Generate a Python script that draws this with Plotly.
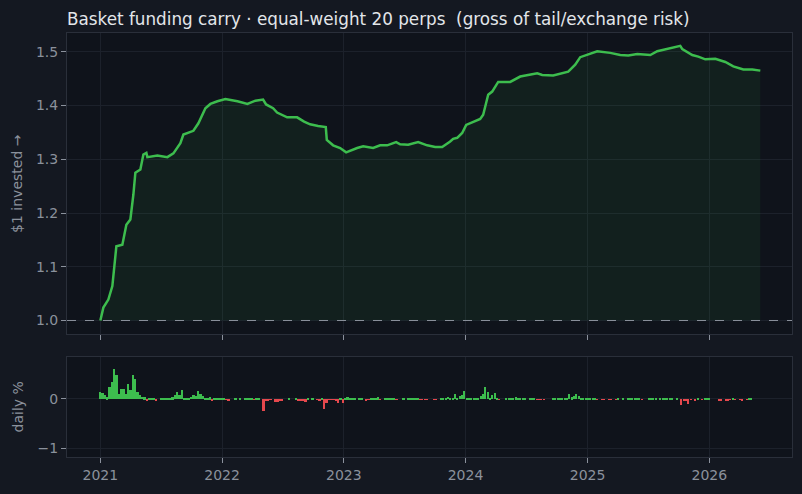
import pandas as pd
import plotly.graph_objects as go
from plotly.subplots import make_subplots

# equity curve, $1 invested
eq_dates = [
    '2021-01-01', '2021-01-10', '2021-01-25', '2021-02-06', '2021-02-18', '2021-03-08',
    '2021-03-20', '2021-04-01', '2021-04-10', '2021-04-16', '2021-05-01', '2021-05-10',
    '2021-05-19', '2021-05-22', '2021-06-21', '2021-07-21', '2021-08-08', '2021-08-29',
    '2021-09-07', '2021-10-07', '2021-10-22', '2021-11-12', '2021-11-27', '2021-12-18',
    '2022-01-11', '2022-02-16', '2022-03-18', '2022-04-11', '2022-05-04', '2022-05-13',
    '2022-06-03', '2022-06-15', '2022-07-15', '2022-08-14', '2022-09-04', '2022-09-22',
    '2022-10-16', '2022-11-08', '2022-11-11', '2022-11-30', '2022-12-21', '2023-01-08',
    '2023-02-10', '2023-02-28', '2023-03-30', '2023-04-20', '2023-05-11', '2023-06-07',
    '2023-06-19', '2023-07-13', '2023-08-12', '2023-09-08', '2023-10-02', '2023-10-23',
    '2023-11-16', '2023-11-25', '2023-12-07', '2023-12-22', '2024-01-03', '2024-01-24',
    '2024-02-14', '2024-02-23', '2024-03-09', '2024-03-21', '2024-04-08', '2024-05-14',
    '2024-06-13', '2024-08-03', '2024-08-18', '2024-09-20', '2024-11-04', '2024-11-25',
    '2024-12-10', '2025-01-30', '2025-03-10', '2025-04-09', '2025-05-03', '2025-05-30',
    '2025-07-08', '2025-07-29', '2025-08-31', '2025-10-06', '2025-10-12', '2025-11-11',
    '2025-11-29', '2025-12-20', '2026-01-19', '2026-02-18', '2026-03-14', '2026-04-13',
    '2026-05-10', '2026-06-03',
]
eq_vals = [
    1.000, 1.024, 1.039, 1.064, 1.138, 1.141,
    1.178, 1.188, 1.234, 1.275, 1.281, 1.309,
    1.312, 1.304, 1.307, 1.304, 1.311, 1.330,
    1.346, 1.353, 1.367, 1.395, 1.403, 1.408,
    1.412, 1.408, 1.403, 1.409, 1.411, 1.402,
    1.395, 1.387, 1.378, 1.378, 1.370, 1.365,
    1.362, 1.360, 1.336, 1.326, 1.321, 1.313,
    1.321, 1.324, 1.321, 1.326, 1.326, 1.332,
    1.328, 1.327, 1.332, 1.326, 1.323, 1.323,
    1.333, 1.338, 1.340, 1.349, 1.364, 1.369,
    1.375, 1.383, 1.420, 1.426, 1.444, 1.444,
    1.454, 1.460, 1.457, 1.456, 1.463, 1.476,
    1.490, 1.501, 1.498, 1.494, 1.493, 1.496,
    1.494, 1.501, 1.506, 1.511, 1.505, 1.494,
    1.491, 1.486, 1.487, 1.481, 1.473, 1.467,
    1.467, 1.465,
]

# basket daily return in %, one value per week starting 2021-01-01
ret_start = '2021-01-01'
ret_vals = [
    0.15, 0.12, 0.08, 0.04, 0.25, 0.35, 0.62, 0.50, 0.10, 0.22,
    0.22, 0.10, 0.32, 0.20, 0.50, 0.42, 0.14, 0.08, 0.05, 0.04,
    -0.02, 0.02, 0.02, 0.02, -0.03, 0.00, 0.02, 0.02, 0.02, 0.02,
    0.02, 0.04, 0.09, 0.15, 0.08, 0.20, 0.02, 0.02, 0.01, 0.05,
    0.08, 0.07, 0.17, 0.10, 0.07, 0.02, 0.03, 0.04, -0.04, 0.02,
    0.02, 0.02, 0.02, 0.01, -0.01, -0.04, 0.00, 0.00, 0.02, 0.00,
    0.02, 0.00, 0.01, 0.02, 0.02, 0.02, -0.01, 0.02, 0.02, 0.00,
    -0.24, -0.03, -0.03, -0.01, 0.00, -0.05, -0.05, -0.03, -0.02, 0.00,
    0.00, 0.02, 0.00, 0.00, 0.02, -0.03, -0.04, -0.02, -0.05, 0.02,
    0.00, 0.02, 0.00, -0.01, -0.02, 0.02, -0.19, -0.07, -0.01, -0.01,
    -0.01, -0.02, -0.07, 0.02, -0.07, 0.02, 0.04, 0.03, 0.02, 0.02,
    0.00, 0.02, 0.02, 0.00, -0.04, -0.01, 0.02, 0.02, 0.02, 0.04,
    -0.01, 0.00, 0.02, 0.02, 0.02, 0.02, 0.02, -0.01, 0.00, 0.00,
    0.01, 0.00, 0.02, 0.02, 0.02, 0.02, 0.02, -0.01, -0.01, -0.01,
    -0.01, 0.00, 0.00, -0.01, -0.01, 0.00, 0.01, 0.02, 0.03, 0.05,
    0.02, 0.02, 0.10, 0.02, 0.06, 0.08, 0.16, 0.02, 0.02, 0.02,
    0.02, 0.02, 0.03, 0.07, 0.10, 0.25, 0.14, 0.02, 0.09, 0.12,
    0.03, -0.01, 0.00, 0.00, 0.02, 0.02, 0.02, 0.02, 0.04, 0.02,
    0.02, 0.02, 0.02, 0.00, 0.02, 0.01, 0.02, -0.01, -0.01, -0.01,
    -0.01, 0.00, 0.00, 0.00, 0.02, 0.02, 0.01, 0.02, 0.02, 0.02,
    0.02, 0.10, 0.04, 0.07, 0.10, 0.06, 0.02, 0.02, 0.02, 0.01,
    0.02, 0.02, 0.02, -0.01, 0.00, -0.01, -0.01, 0.00, -0.01, -0.01,
    0.00, -0.01, 0.01, 0.00, 0.01, 0.00, 0.02, 0.02, 0.02, 0.02,
    0.01, 0.02, -0.01, 0.00, 0.00, 0.02, 0.02, 0.02, 0.02, 0.00,
    0.02, 0.01, 0.02, 0.02, 0.02, 0.01, 0.00, 0.02, 0.00, -0.11,
    -0.02, -0.02, -0.09, -0.01, 0.00, -0.02, 0.01, 0.00, -0.01, 0.01,
    0.02, 0.01, 0.00, 0.00, 0.00, -0.02, -0.02, 0.00, -0.04, -0.02,
    -0.01, 0.01, -0.01, 0.00, -0.01, -0.04, 0.00, -0.01, 0.02, 0.02,
    0.00, 0.00, 0.00,
]

ret_dates = pd.date_range(ret_start, periods=len(ret_vals), freq='7D')
GREEN = '#3dbd4e'
RED = '#e5484d'
bar_colors = [GREEN if v >= 0 else RED for v in ret_vals]

fig = make_subplots(rows=2, cols=1, shared_xaxes=True, vertical_spacing=0.052,
                    row_heights=[0.75, 0.25])

# baseline at $1 so the fill stops there
fig.add_trace(go.Scatter(x=eq_dates, y=[1.0] * len(eq_dates), mode='lines',
                         line=dict(width=0), hoverinfo='skip', showlegend=False), row=1, col=1)
fig.add_trace(go.Scatter(x=eq_dates, y=eq_vals, mode='lines', fill='tonexty',
                         fillcolor='rgba(61,189,78,0.08)',
                         line=dict(color=GREEN, width=2.5), showlegend=False), row=1, col=1)
fig.add_trace(go.Bar(x=ret_dates, y=ret_vals, marker=dict(color=bar_colors, line=dict(width=0)),
                     width=5 * 86400000, showlegend=False), row=2, col=1)

fig.add_hline(y=1.0, line=dict(color='#8b919c', width=1, dash='dash'), row=1, col=1)

axis_common = dict(showgrid=True, gridcolor='#1c212b', zeroline=False, showline=True,
                   linecolor='#2a2f3a', mirror=True, ticks='outside', tickcolor='#8b919c',
                   ticklen=5, tickfont=dict(color='#8b919c', size=14))

fig.update_xaxes(range=['2020-09-23', '2026-09-06'], dtick='M12', tick0='2021-01-01',
                 tickformat='%Y', **axis_common)
fig.update_yaxes(automargin=False, **axis_common)
fig.update_yaxes(range=[0.974, 1.535], dtick=0.1, tickformat='.1f',
                 title=dict(text='$1 invested →', standoff=10,
                            font=dict(color='#8b919c', size=14)), row=1, col=1)
fig.update_yaxes(range=[-1.18, 0.86], dtick=1,
                 title=dict(text='daily %', standoff=10,
                            font=dict(color='#8b919c', size=14)), row=2, col=1)

fig.update_layout(
    width=802, height=494,
    margin=dict(l=67, r=10, t=33, b=37),
    paper_bgcolor='#141821',
    plot_bgcolor='#0f131b',
    font=dict(family='DejaVu Sans', color='#8b919c'),
    title=dict(text='Basket funding carry · equal-weight 20 perps\u00a0 (gross of tail/exchange risk)',
               x=0, xref='paper', xanchor='left', y=0.962, yanchor='middle',
               font=dict(size=16.8, color='#e3e6ea')),
    bargap=0,
)

# page body margin would shift the figure by 8px
fig.write_html("out.html", config={'displayModeBar': False},
               post_script="document.body.style.margin='0';document.body.style.background='#141821';")
